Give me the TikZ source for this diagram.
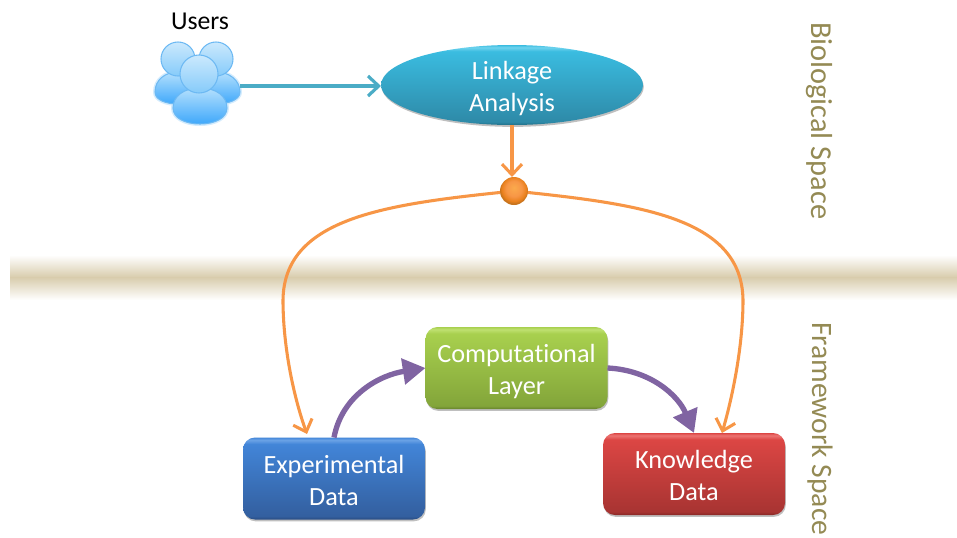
\documentclass[tikz,border=0pt]{standalone}
\usepackage{fontspec}
\setmainfont[Ligatures=NoCommon]{Carlito}
\usetikzlibrary{arrows.meta,shadows,shapes.geometric}
\definecolor{tanband}{HTML}{D8CCAC}
\definecolor{orangeline}{HTML}{F79646}
\definecolor{tealline}{HTML}{4BACC6}
\definecolor{purpleline}{HTML}{8064A2}
\definecolor{sidetext}{HTML}{948A54}
\definecolor{iconedge}{HTML}{6DB9F3}
\definecolor{iconglow}{HTML}{D5ECFD}
\definecolor{iconA}{HTML}{CBE9FD}
\definecolor{iconB}{HTML}{86CBFA}
\definecolor{iconC}{HTML}{B4E0FD}
\definecolor{iconD}{HTML}{3FA8FB}
\definecolor{ballA}{HTML}{FBAA4C}
\definecolor{ballB}{HTML}{E9801C}
\definecolor{ballrim}{HTML}{C8741E}
% 25bp = bottom of the shape, 75bp = top of the shape
\newcommand{\glossy}[5]{\pgfdeclareverticalshading{#1}{100bp}{
  color(0bp)=(#5); color(25bp)=(#5); color(27bp)=(#3); color(71bp)=(#2); color(73.5bp)=(#4); color(75bp)=(#2); color(100bp)=(#2)}}
\newcommand{\lowered}[1]{\rule{0pt}{#1}}
\definecolor{greenT}{HTML}{A8D04E}\definecolor{greenB}{HTML}{83A53A}\definecolor{greenL}{HTML}{BFE070}\definecolor{greenD}{HTML}{66822C}
\definecolor{blueT}{HTML}{4285D8}\definecolor{blueB}{HTML}{335F9F}\definecolor{blueL}{HTML}{6BA3E6}\definecolor{blueD}{HTML}{274B80}
\definecolor{redT}{HTML}{DC4644}\definecolor{redB}{HTML}{A83432}\definecolor{redL}{HTML}{EC7472}\definecolor{redD}{HTML}{862725}
\definecolor{ellT}{HTML}{3ABCE0}\definecolor{ellB}{HTML}{2E8AA8}\definecolor{ellL}{HTML}{6FD3EE}\definecolor{ellD}{HTML}{1F6F88}
\glossy{greengloss}{greenT}{greenB}{greenL}{greenD}
\glossy{bluegloss}{blueT}{blueB}{blueL}{blueD}
\glossy{redgloss}{redT}{redB}{redL}{redD}
\glossy{ellgloss}{ellT}{ellB}{ellL}{ellD}
\pgfdeclareradialshading{ballgloss}{\pgfpoint{0bp}{6bp}}{
  color(0bp)=(ballA); color(14bp)=(orangeline); color(22bp)=(ballB); color(25bp)=(ballrim); color(50bp)=(ballrim)}
\tikzset{
  every node/.style={font=\fontsize{19.7}{24}\selectfont, align=center, inner sep=0pt, outer sep=0pt},
  softshadow/.style={drop shadow={shadow xshift=0.6pt, shadow yshift=-1.4pt, fill=black, opacity=0.25}},
  box/.style={rounded corners=9pt, minimum width=136.5pt, minimum height=61.5pt, text=white, softshadow},
  greenbox/.style={box, shading=greengloss},
  bluebox/.style={box, shading=bluegloss},
  redbox/.style={box, shading=redgloss},
  orangearrow/.style={draw=orangeline, line width=2.3pt, -{Straight Barb[length=8pt,width=15pt,line width=2.3pt]}},
  tealarrow/.style={draw=tealline, line width=2.4pt, -{Straight Barb[length=8pt,width=15pt,line width=2.4pt]}},
  purplearrow/.style={draw=purpleline, line width=4pt, -{Triangle[length=17pt,width=19pt]}},
  sidelabel/.style={text=sidetext, rotate=-90, font=\fontsize{22.8}{26}\selectfont},
  headshape/.style={draw=iconedge, line width=0.8pt, top color=iconA, bottom color=iconB},
  bodyshape/.style={draw=iconedge, line width=0.8pt, top color=iconC, bottom color=iconD},
  glowshape/.style={draw=iconglow, line width=3pt, line join=round},
}
\begin{document}
\begin{tikzpicture}[x=0.75pt,y=-0.75pt]
\useasboundingbox (0,0) rectangle (957,537);
\clip (0,0) rectangle (957,537);
% band
\fill[top color=white, bottom color=tanband] (10,255) rectangle (957,277.5);
\fill[top color=tanband, bottom color=white] (10,277) rectangle (957,300);
% icon
\path[glowshape] (155,92) .. controls (155,80) and (165,72) .. (178,72) .. controls (191,72) and (201,80) .. (201,92) .. controls (201,100) and (190,104) .. (178,104) .. controls (166,104) and (155,100) .. (155,92) -- cycle;
\path[glowshape] (193,92) .. controls (193,80) and (203,72) .. (216,72) .. controls (229,72) and (240,80) .. (240,92) .. controls (240,100) and (228,104) .. (216,104) .. controls (204,104) and (193,100) .. (193,92) -- cycle;
\path[glowshape] (173,108) .. controls (173,96) and (184,88) .. (200,88) .. controls (216,88) and (227,96) .. (227,108) .. controls (227,118) and (215,124) .. (200,124) .. controls (185,124) and (173,118) .. (173,108) -- cycle;
\path[bodyshape] (155,92) .. controls (155,80) and (165,72) .. (178,72) .. controls (191,72) and (201,80) .. (201,92) .. controls (201,100) and (190,104) .. (178,104) .. controls (166,104) and (155,100) .. (155,92) -- cycle;
\path[bodyshape] (193,92) .. controls (193,80) and (203,72) .. (216,72) .. controls (229,72) and (240,80) .. (240,92) .. controls (240,100) and (228,104) .. (216,104) .. controls (204,104) and (193,100) .. (193,92) -- cycle;
\path[headshape] (178,59) circle (17);
\path[headshape] (216,59) circle (17);
\path[bodyshape] (173,108) .. controls (173,96) and (184,88) .. (200,88) .. controls (216,88) and (227,96) .. (227,108) .. controls (227,118) and (215,124) .. (200,124) .. controls (185,124) and (173,118) .. (173,108) -- cycle;
\path[headshape] (199,74) circle (19);
\coordinate (usersout) at (240,86);
\node[font=\fontsize{19.3}{23}\selectfont] (userslabel) at (200,21) {Users};
% nodes
\node[ellipse, inner ysep=-5pt, minimum width=196.5pt, minimum height=60pt, shading=ellgloss, text=white, softshadow] (linkage) at (512,85) {\lowered{18.5pt}Linkage\\Analysis};
\node[circle, minimum size=21pt, shading=ballgloss] (dot) at (514,191) {};
\node[greenbox] (comp) at (516.5,368) {\lowered{18.5pt}Computational\\Layer};
\node[bluebox] (exp) at (334,478.5) {\lowered{17pt}Experimental\\Data};
\node[redbox] (know) at (694,474) {\lowered{15.5pt}Knowledge\\Data};
\coordinate (expin) at (307,434);
\coordinate (knowin) at (722,433);
\coordinate (leftbend) at (283,300);
\coordinate (rightbend) at (743,300);
% connectors
\draw[tealarrow] (usersout) -- (usersout -| linkage.west);
\draw[orangearrow] (linkage.south) -- (linkage.south |- dot.north);
\draw[orangearrow] (dot) .. controls (380,205) and (284,220) .. (leftbend) .. controls (283,345) and (293,395) .. (expin);
\draw[orangearrow] (dot) .. controls (646,205) and (742,220) .. (rightbend) .. controls (743,345) and (733,395) .. (knowin);
\draw[purplearrow] (exp.north) .. controls (342,395) and (380,375) .. (comp.west);
\draw[purplearrow] (comp.east) .. controls (650,370) and (678,395) .. (know.north);
% side labels
\node[sidelabel, anchor=west] (bio) at (819,22) {Biological Space};
\node[sidelabel, anchor=west, font=\fontsize{22.2}{26}\selectfont] (frame) at (820,322) {Framework Space};
\end{tikzpicture}
\end{document}
